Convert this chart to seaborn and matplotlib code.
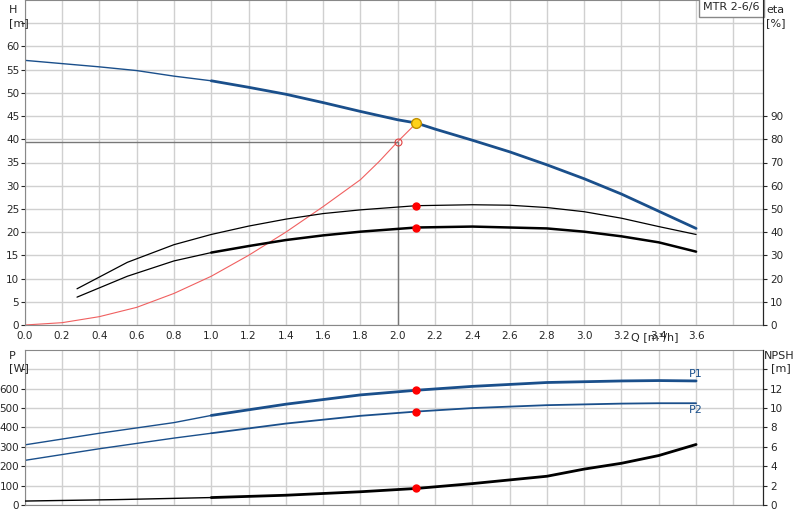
import matplotlib

matplotlib.use('Agg')

import matplotlib.pyplot as plt
import seaborn as sns
import numpy as np

# Curva H (altura)
q_h = [0.0, 0.2, 0.4, 0.6, 0.8, 1.0, 1.2, 1.4, 1.6, 1.8, 2.0, 2.1, 2.2, 2.4, 2.6, 2.8, 3.0, 3.2, 3.4, 3.6]
h_vals = [57.0, 56.3, 55.6, 54.8, 53.6, 52.6, 51.2, 49.7, 47.9, 46.0, 44.2, 43.5, 42.2, 39.8, 37.3, 34.5, 31.5, 28.2, 24.5, 20.8]

# Curvas de rendimiento (eta, en %)
q_eta = [0.28, 0.55, 0.8, 1.0, 1.2, 1.4, 1.6, 1.8, 2.0, 2.1, 2.4, 2.6, 2.8, 3.0, 3.2, 3.4, 3.6]
eta_pump = [15.6, 27.0, 34.6, 39.0, 42.6, 45.6, 48.0, 49.6, 50.8, 51.4, 51.8, 51.6, 50.6, 48.8, 46.0, 42.4, 39.0]
eta_total = [12.0, 21.0, 27.6, 31.2, 34.0, 36.6, 38.6, 40.2, 41.4, 42.0, 42.4, 42.0, 41.6, 40.2, 38.2, 35.6, 31.6]

# Curva de sistema (roja)
q_sys = [0.0, 0.2, 0.4, 0.6, 0.8, 1.0, 1.2, 1.4, 1.6, 1.8, 1.9, 2.0, 2.1]
h_sys = [0.0, 0.5, 1.8, 3.8, 6.8, 10.5, 15.0, 20.0, 25.5, 31.3, 35.2, 39.5, 43.5]

# Potencias y NPSH
q_p = [0.0, 0.4, 0.8, 1.0, 1.4, 1.8, 2.1, 2.4, 2.8, 3.2, 3.4, 3.6]
p1_vals = [310, 370, 425, 462, 520, 568, 592, 612, 632, 640, 642, 640]
p2_vals = [230, 290, 345, 370, 420, 460, 482, 500, 515, 523, 525, 525]
q_npsh = [0.0, 0.5, 1.0, 1.4, 1.8, 2.1, 2.4, 2.8, 3.0, 3.2, 3.4, 3.6]
npsh_vals = [0.4, 0.55, 0.76, 1.0, 1.36, 1.7, 2.2, 2.96, 3.7, 4.3, 5.1, 6.24]

q_duty = 2.1
q_req = 2.0
h_req = 39.5

BLUE = '#1a4f8b'
GRID = '#d0d0d0'

sns.set_style('white')
plt.rcParams['font.family'] = ['DejaVu Sans']
plt.rcParams['font.size'] = 7.5


def split_plot(ax, q, v, color, lw_thin, lw_thick, q_cut=1.0):
    q = np.array(q, dtype=float)
    v = np.array(v, dtype=float)
    thin = q <= q_cut
    thick = q >= q_cut
    sns.lineplot(x=q[thin], y=v[thin], color=color, linewidth=lw_thin, ax=ax)
    sns.lineplot(x=q[thick], y=v[thick], color=color, linewidth=lw_thick, ax=ax)


def style_axes(ax, ax2, yticks, ylabels, xlabels):
    xt = [round(v, 1) for v in np.arange(0, 3.81, 0.2)]
    ax.set_xticks(xt)
    ax.set_xticklabels(xlabels(xt))
    ax.set_yticks(yticks)
    ax.set_yticklabels(ylabels)
    ax.grid(True, color=GRID, linewidth=1)
    ax.set_axisbelow(True)
    ax.set_xlabel('')
    ax.set_ylabel('')
    ax.tick_params(length=3, pad=1)
    for s in ['top', 'left', 'bottom']:
        ax.spines[s].set_color('#888888')
        ax2.spines[s].set_visible(False)
    ax.spines['right'].set_color('black')
    ax2.grid(False)
    ax2.set_ylabel('')
    ax2.tick_params(length=3, pad=2)


fig = plt.figure(figsize=(8, 5.2), dpi=100)

# ---- Grafico superior ----
ax = fig.add_axes([0.031, 0.375, 0.923, 0.625])
ax2 = ax.twinx()

split_plot(ax, q_h, h_vals, BLUE, 1.0, 2.0)
sns.lineplot(x=q_eta, y=eta_pump, color='black', linewidth=0.9, ax=ax2)
split_plot(ax2, q_eta, eta_total, 'black', 0.9, 1.8)
sns.lineplot(x=q_sys, y=h_sys, color='#f06060', linewidth=0.8, ax=ax)

ax.plot([0, q_req], [h_req, h_req], color='#777777', linewidth=1)
ax.plot([q_req, q_req], [0, h_req], color='#777777', linewidth=1)
ax.plot(q_req, h_req, 'o', mfc='none', mec='#e04040', ms=5, mew=0.8)
ax.plot(q_duty, h_vals[q_h.index(q_duty)], 'o', color='#ffd21a', mec='#c09000', ms=7)
ax2.plot([q_duty, q_duty], [eta_pump[q_eta.index(q_duty)], eta_total[q_eta.index(q_duty)]],
         'o', color='red', ms=5, linestyle='none')

ax.set_xlim(0, 3.96)
ax.set_ylim(0, 70)
ax2.set_ylim(0, 140)
style_axes(ax, ax2, list(range(0, 66, 5)),
           [str(v) if v <= 60 else '' for v in range(0, 66, 5)],
           lambda xt: [f'{v:.1f}' if v < 3.7 else '' for v in xt])
ax2.set_yticks(list(range(0, 91, 10)))
ax2.set_yticklabels([str(v) for v in range(0, 91, 10)])

fig.text(0.011, 0.99, 'H\n[m]', va='top', ha='left', fontsize=8, linespacing=1.3)
fig.text(0.958, 0.99, 'eta\n[%]', va='top', ha='left', fontsize=8, linespacing=1.3)
fig.text(0.789, 0.362, 'Q [m³/h]', va='top', ha='left', fontsize=8)
ax.text(0.995, 0.993, 'MTR 2-6/6', transform=ax.transAxes, ha='right', va='top', fontsize=8,
        bbox=dict(boxstyle='square,pad=0.4', fc='white', ec='#888888'))

# ---- Grafico inferior ----
bx = fig.add_axes([0.031, 0.029, 0.923, 0.298])
bx2 = bx.twinx()

split_plot(bx, q_p, p1_vals, BLUE, 1.0, 2.0)
split_plot(bx, q_p, p2_vals, BLUE, 1.0, 1.3)
split_plot(bx2, q_npsh, npsh_vals, 'black', 1.0, 2.0)
bx.plot([q_duty, q_duty], [p1_vals[q_p.index(q_duty)], p2_vals[q_p.index(q_duty)]],
        'o', color='red', ms=5, linestyle='none')
bx2.plot(q_duty, npsh_vals[q_npsh.index(q_duty)], 'o', color='red', ms=5)
bx.text(3.6, 650, 'P1', color=BLUE, ha='center', va='bottom', fontsize=8)
bx.text(3.6, 515, 'P2', color=BLUE, ha='center', va='top', fontsize=8)

bx.set_xlim(0, 3.96)
bx.set_ylim(0, 800)
bx2.set_ylim(0, 16)
style_axes(bx, bx2, list(range(0, 701, 100)),
           [str(v) if v <= 600 else '' for v in range(0, 701, 100)],
           lambda xt: ['' for v in xt])
bx.tick_params(axis='x', length=0)
bx2.set_yticks(list(range(0, 15, 2)))
bx2.set_yticklabels([str(v) if v <= 12 else '' for v in range(0, 15, 2)])

fig.text(0.011, 0.325, 'P\n[W]', va='top', ha='left', fontsize=8, linespacing=1.3)
fig.text(0.955, 0.325, 'NPSH\n  [m]', va='top', ha='left', fontsize=8, linespacing=1.3)

fig.savefig('out.png', dpi=100)
